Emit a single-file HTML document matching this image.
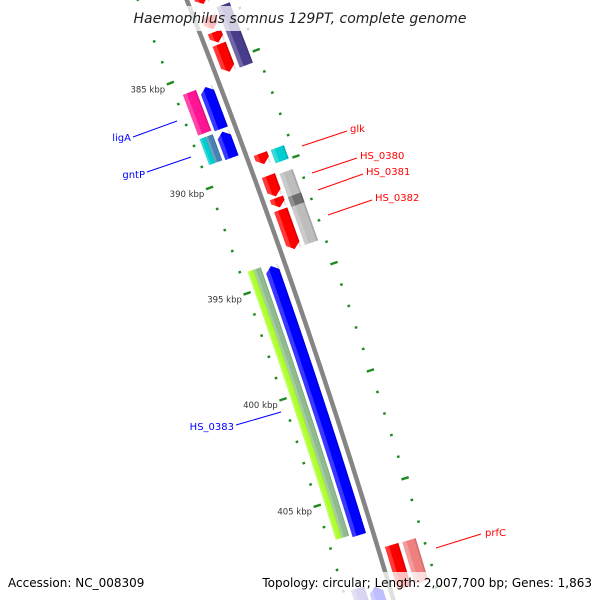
<!DOCTYPE html>
<html><head><meta charset="utf-8"><style>
html,body{margin:0;padding:0;background:#fff;width:600px;height:600px;overflow:hidden;}
svg{display:block;overflow:hidden;font-family:"DejaVu Sans","Liberation Sans",sans-serif;}
</style></head><body>
<svg id="map" width="600" height="600" viewBox="0 0 600 600" xmlns="http://www.w3.org/2000/svg">
<g id="features"></g>
<g id="ruler"></g>
<g id="labels"></g>
<rect x="128" y="6" width="344" height="25" fill="#fff" opacity="0.75"/>
<text x="300" y="23" text-anchor="middle" font-size="14" font-style="italic" fill="#222">Haemophilus somnus 129PT, complete genome</text>
<rect x="0" y="572" width="600" height="28" fill="#fff" opacity="0.75"/>
<text x="8" y="587" font-size="12" fill="#000">Accession: NC_008309</text>
<text x="592" y="587" text-anchor="end" font-size="12" fill="#000">Topology: circular; Length: 2,007,700 bp; Genes: 1,863</text>
</svg>
<script>
// ---- data (kbp) ----
const featStart = [381.5, 382.85, 383.58, 384.16, 389.34, 390.38, 391.43, 391.99, 407.64,
                   382.6, 389.35, 390.47, 391.57, 407.66,
                   385.72, 387.84, 394.2, 409.2,
                   385.69, 387.8, 387.8, 394.1, 394.1, 409.05];
const featEnd   = [382.25, 383.45, 384.08, 385.47, 389.84, 391.36, 391.88, 393.84, 409.6,
                   385.46, 389.98, 393.82, 392.03, 409.6,
                   387.71, 389.08, 406.8, 411.0,
                   387.63, 389.04, 389.04, 406.7, 406.7, 411.0];
const featTrack = ['o1','o1','o1','o1','o1','o1','o1','o1','o1',
                   'o2','o2','o2','o2','o2',
                   'i1','i1','i1','i1',
                   'i2','i2a','i2b','i2a','i2b','i2'];
const featColor = ['#ff0000','#ff0000','#ff0000','#ff0000','#ff0000','#ff0000','#ff0000','#ff0000','#ff0000',
                   '#483d8b','#00cdd0','#bdbdbd','#6f6f6f','#f08080',
                   '#0000ff','#0000ff','#0000ff','#0000ff',
                   '#ff1493','#00cdd0','#4682b4','#adff2f','#8fbc8f','#6a5acd'];
const featArrow = [1,1,1,1,1,1,1,1,0, 0,0,0,0,0, -1,-1,-1,-1, 0,0,0,0,0,0];
const rulerTicks = [380,381,382,383,384,385,386,387,388,389,390,391,392,393,394,395,396,397,398,399,400,401,402,403,404,405,406,407,408,409,410,411,412];
const rulerLabels = [385, 390, 395, 400, 405];
const calloutText  = ['ligA','gntP','HS_0383','glk','HS_0380','HS_0381','HS_0382','prfC'];
const calloutColor = ['#0000ff','#0000ff','#0000ff','#ff0000','#ff0000','#ff0000','#ff0000','#ff0000'];

// ---- geometry ----
const TOTAL = 2007.7, CX = -6506.3, CY = 2641.5, RB = 7195.5;
const trackR = {o1:[7,21], o2:[25,39], i1:[-21,-7], i2:[-38,-24], i2a:[-38,-31.5], i2b:[-31.5,-24]};
function pos(kbp, rel){
  const a = kbp/TOTAL*2*Math.PI, r = RB+rel;
  return [CX + r*Math.sin(a), CY - r*Math.cos(a)];
}
function pt(p){return p[0].toFixed(2)+','+p[1].toFixed(2);}
const NS='http://www.w3.org/2000/svg';
function mk(tag, attrs, parent){
  const e=document.createElementNS(NS,tag);
  for(const k in attrs) e.setAttribute(k,attrs[k]);
  parent.appendChild(e); return e;
}
const fg=document.getElementById('features');
(function(){
  const pts=[]; for(let k=378;k<=412;k+=0.5) pts.push(pt(pos(k,0)));
  const bb=mk('polyline',{points:pts.join(' '),fill:'none',stroke:'#858585','stroke-width':4.5},fg);
  
  
})();
function band(s,e,r0,r1,arrow){
  const A=0.25;
  const rm=(r0+r1)/2, outer=[], inner=[];
  let bs=s, be=e;
  if(arrow===1) be=Math.max(s,e-A);
  if(arrow===-1) bs=Math.min(e,s+A);
  const n=Math.max(2,Math.ceil((be-bs)/0.25));
  for(let i=0;i<=n;i++){const k=bs+(be-bs)*i/n; outer.push(pos(k,r1)); inner.push(pos(k,r0));}
  let P=[];
  if(arrow===-1) P.push(pos(s,rm));
  P=P.concat(outer);
  if(arrow===1) P.push(pos(e,rm));
  P=P.concat(inner.reverse());
  return P.map(pt).join(' ');
}
for(let i=0;i<featStart.length;i++){
  const tr=trackR[featTrack[i]];
  const g=mk('g',{},fg);
  
  
  mk('polygon',{points:band(featStart[i],featEnd[i],tr[0],tr[1],featArrow[i]),fill:featColor[i]},g);
  const w=tr[1]-tr[0];
  mk('polygon',{points:band(featStart[i],featEnd[i],tr[0],tr[0]+w*0.3,0),fill:'#fff',opacity:0.22},g);
  mk('polygon',{points:band(featStart[i],featEnd[i],tr[1]-w*0.12,tr[1],0),fill:'#000',opacity:0.12},g);
}
const rg=document.getElementById('ruler');
rulerTicks.forEach(k=>{
  const major=(k%5===0);
  const L=major?3.8:1.3;
  [-45.5,46.5].forEach(rr=>{
    const a=pos(k,rr-L), b=pos(k,rr+L);
    const t=mk('line',{x1:a[0],y1:a[1],x2:b[0],y2:b[1],stroke:'#1f8a1f','stroke-width':2.4},rg);
    
    
  });
});
rulerLabels.forEach(k=>{
  const p=pos(k,-50);
  const t=mk('text',{x:p[0]-1,y:p[1]+7.5,'text-anchor':'end','font-size':8.5,fill:'#333'},rg);
  t.textContent=k+' kbp';
  
  
});
const lg=document.getElementById('labels');
const calloutLine=[[133,137,177,121],[147,172,191,157],[236,425,281,412],[302,146,347,131],[312,173,357,158],[318,190,363,174],[328,215,372,200],[436,548,481,534]];
const calloutPos=[[131,141,'end'],[145,178,'end'],[234,430,'end'],[350,132,'start'],[360,159,'start'],[366,175,'start'],[375,201,'start'],[485,536,'start']];
calloutText.forEach((txt,i)=>{
  const L=calloutLine[i];
  const l=mk('line',{x1:L[0],y1:L[1],x2:L[2],y2:L[3],stroke:calloutColor[i],'stroke-width':1},lg);
  
  
  const P=calloutPos[i];
  const t=mk('text',{x:P[0],y:P[1],'text-anchor':P[2],'font-size':10,fill:calloutColor[i]},lg);
  t.textContent=txt;
  
  
});
</script>
</body></html>
